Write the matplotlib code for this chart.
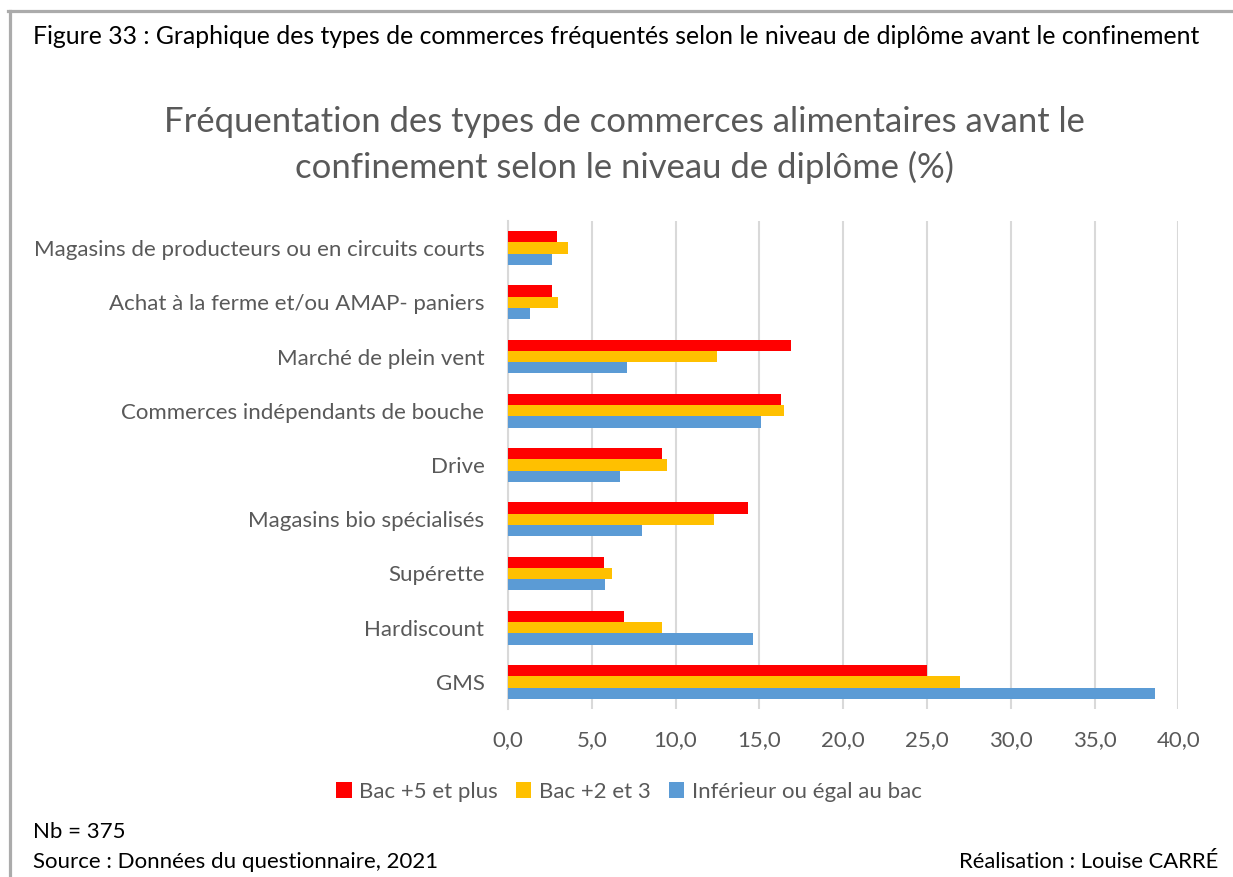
import matplotlib
matplotlib.use("Agg")
import matplotlib.pyplot as plt
from matplotlib.lines import Line2D
from matplotlib.patches import Patch
import numpy as np

categories = [
    "Magasins de producteurs ou en circuits courts",
    "Achat à la ferme et/ou AMAP- paniers",
    "Marché de plein vent",
    "Commerces indépendants de bouche",
    "Drive",
    "Magasins bio spécialisés",
    "Supérette",
    "Hardiscount",
    "GMS",
]
bac5 = [2.9, 2.6, 16.9, 16.3, 9.2, 14.3, 5.7, 6.9, 25.0]
bac23 = [3.6, 3.0, 12.5, 16.5, 9.5, 12.3, 6.2, 9.2, 27.0]
inf_bac = [2.6, 1.3, 7.1, 15.1, 6.7, 8.0, 5.8, 14.6, 38.6]
series_names = ["Bac +5 et plus", "Bac +2 et 3", "Inférieur ou égal au bac"]
colors = ["#FF0000", "#FFC000", "#5B9BD5"]
xticks = [0, 5, 10, 15, 20, 25, 30, 35, 40]

W, H = 1233, 877
fig = plt.figure(figsize=(W / 100, H / 100), dpi=100)
FONT = "Lato"
GREY = "#595959"

def fx(px):
    return px / W

def fy(py):
    return 1 - py / H

ax = fig.add_axes([fx(508), fy(709), fx(1178.3) - fx(508), fy(221) - fy(709)])

y = np.arange(len(categories))
bh = 0.207
for k, (vals, c) in enumerate(zip([bac5, bac23, inf_bac], colors)):
    ax.barh(y + (k - 1) * bh, vals, height=bh, color=c, edgecolor="none", zorder=3)

ax.set_xlim(0, 40)
ax.set_ylim(len(categories) - 0.5, -0.5)
ax.set_xticks(xticks)
ax.set_xticklabels([f"{v:.1f}".replace(".", ",") for v in xticks],
                   fontsize=16, color=GREY, family=FONT)
ax.set_yticks(y)
ax.set_yticklabels(categories, fontsize=16, color=GREY, family=FONT)
ax.tick_params(axis="both", length=0)
ax.tick_params(axis="y", pad=17)
ax.tick_params(axis="x", pad=15)
ax.grid(axis="x", color="#D9D9D9", linewidth=1.5, zorder=0)
for s in ["top", "right", "bottom"]:
    ax.spines[s].set_visible(False)
ax.spines["left"].set_color("#D9D9D9")
ax.spines["left"].set_linewidth(1.5)

# Title
fig.text(fx(624), fy(122), "Fréquentation des types de commerces alimentaires avant le",
         ha="center", va="center", fontsize=24.9, color=GREY, family=FONT)
fig.text(fx(624), fy(167), "confinement selon le niveau de diplôme (%)",
         ha="center", va="center", fontsize=24.9, color=GREY, family=FONT)

# Figure header
fig.text(fx(33), fy(37), "Figure 33 : Graphique des types de commerces fréquentés selon le niveau de diplôme avant le confinement",
         ha="left", va="center", fontsize=17.8, color="black", family=FONT)

# Legend
handles = [Patch(facecolor=c, edgecolor="none") for c in colors]
fig.legend(handles, series_names, loc="center", bbox_to_anchor=(fx(629), fy(792)),
           ncol=3, frameon=False, prop={"family": FONT, "size": 16},
           labelcolor=GREY, handlelength=0.7, handleheight=0.7,
           handletextpad=0.35, columnspacing=0.8)

# Notes
fig.text(fx(33), fy(832), "Nb = 375", ha="left", va="center", fontsize=16, color="black", family=FONT)
fig.text(fx(33), fy(862), "Source : Données du questionnaire, 2021", ha="left", va="center",
         fontsize=16, color="black", family=FONT)
fig.text(fx(1218), fy(862), "Réalisation : Louise CARRÉ", ha="right", va="center",
         fontsize=15.8, color="black", family=FONT)

# Border
fig.add_artist(Line2D([fx(8), 1], [fy(11), fy(11)], color="#ABABAB", linewidth=2.3))
fig.add_artist(Line2D([fx(9.5), fx(9.5)], [fy(11), 0], color="#ABABAB", linewidth=2.3))

fig.savefig("out.png", dpi=100)
